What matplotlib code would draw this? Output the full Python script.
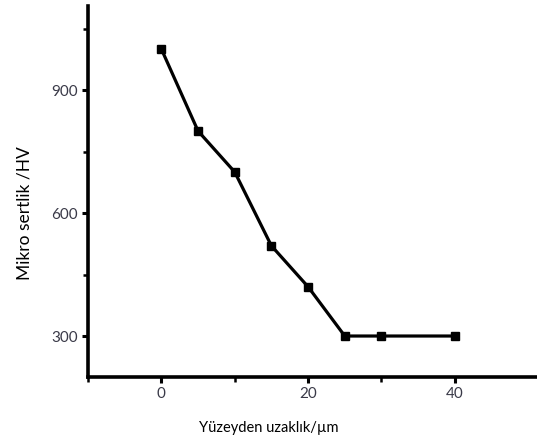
import matplotlib
matplotlib.use("Agg")
import matplotlib.pyplot as plt
from matplotlib.ticker import FixedLocator

# distance from surface (µm) and micro hardness (HV)
distance = [0, 5, 10, 15, 20, 25, 30, 40]
hardness = [1000, 800, 700, 520, 420, 300, 300, 300]

x_ticks = [0, 20, 40]
x_minor = [-10, 10, 30]
y_ticks = [300, 600, 900]
y_minor = [450, 750, 1050]

plt.rcParams['font.family'] = ['Lato', 'DejaVu Sans']

fig = plt.figure(figsize=(5.37, 4.41), dpi=100)
ax = fig.add_axes([0.1639, 0.1451, 0.8361, 0.8413])

ax.plot(distance, hardness, color='black', linewidth=2.3,
        marker='s', markersize=5.5, clip_on=False)

ax.set_xlim(-10, 51.2)
ax.set_ylim(200, 1105)
ax.set_xticks(x_ticks)
ax.set_yticks(y_ticks)
ax.xaxis.set_minor_locator(FixedLocator(x_minor))
ax.yaxis.set_minor_locator(FixedLocator(y_minor))

for side in ['top', 'right']:
    ax.spines[side].set_visible(False)
for side in ['left', 'bottom']:
    ax.spines[side].set_linewidth(2.6)

ax.tick_params(which='major', direction='out', length=4.5, width=2.2,
               labelsize=11, labelcolor='#3a3a48', pad=3)
ax.tick_params(which='minor', direction='out', length=3.5, width=1.8)

ax.set_ylabel('Mikro sertlik /HV', fontsize=12.5)
ax.yaxis.set_label_coords(-0.124, 0.442)
ax.set_xlabel('Yüzeyden uzaklık/µm', fontsize=10.5)
ax.xaxis.set_label_coords(0.403, -0.119)

fig.savefig('out.png', dpi=100)
